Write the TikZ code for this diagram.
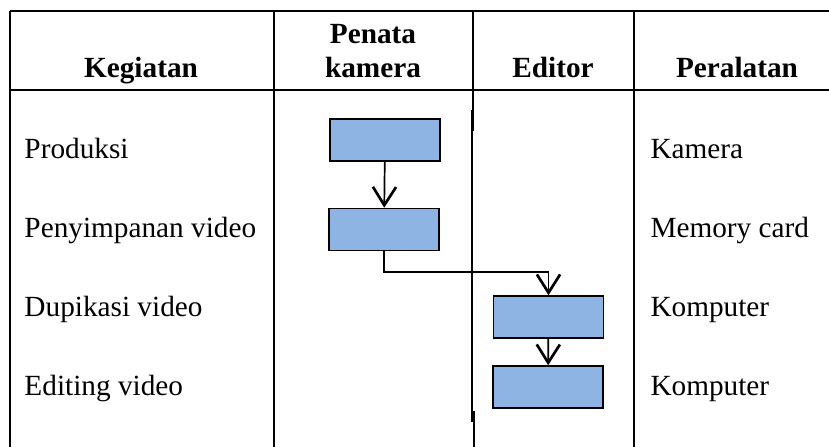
\documentclass[tikz,border=0pt]{standalone}
\usepackage{fontspec}
\setmainfont{Liberation Serif}
\usepackage{tikz}
\usetikzlibrary{arrows.meta,positioning}
\definecolor{boxblue}{HTML}{8EB4E3}

\begin{document}
\begin{tikzpicture}[
    x=0.41pt, y=-0.41pt,
    grid/.style={line width=0.85pt},
    head/.style={font=\fontsize{12}{13.8}\selectfont\bfseries, anchor=base, inner sep=0pt, align=center},
    cell/.style={font=\fontsize{12}{13.8}\selectfont, anchor=base west, inner sep=0pt},
    task/.style={rectangle, draw, fill=boxblue, line width=0.65pt, minimum width=45pt, minimum height=17.2pt, inner sep=0pt},
    flow/.style={-{Straight Barb[length=7.5pt, width=9.5pt, line width=1.1pt]}, line width=0.7pt}
]
\useasboundingbox (0,0) rectangle (829,447);

% table lines
\draw[grid] (10,11) -- (829,11);
\draw[grid] (10,90) -- (829,90);
\draw[grid] (10,11) -- (10,447);
\draw[grid] (274,11) -- (274,447);
\draw[grid] (473,11) -- (473,131);
\draw[line width=0.6pt] (472,110) -- (472,422);
\draw[grid] (474,411) -- (474,447);
\draw[grid] (634,11) -- (634,447);

% header
\node[head] (hkeg) at (141,77) {Kegiatan};
\node[head] (hpen) at (373,77) {Penata\\kamera};
\node[head] (hedi) at (553,77) {Editor};
\node[head] (hper) at (737,77) {Peralatan};

% kegiatan
\node[cell] (kprod) at (24,158) {Produksi};
\node[cell] (ksimp) at (24,237) {Penyimpanan video};
\node[cell] (kdup)  at (24,316) {Dupikasi video};
\node[cell] (kedit) at (24,395) {Editing video};

% peralatan
\node[cell] (pkam)  at (650,158) {Kamera};
\node[cell] (pmem)  at (650,237) {Memory card};
\node[cell] (pkom1) at (650,316) {Komputer};
\node[cell] (pkom2) at (650,395) {Komputer};

% flow boxes
\node[task] (pk1) at (385,140) {};
\node[task] (pk2) at (384,229.5) {};
\node[task] (ed1) at (548.5,317) {};
\node[task] (ed2) at (548,387) {};

\draw[flow] (pk1) -- (pk2);
\draw[flow] (pk2.south) -- ++(0,21) -| (ed1.north);
\draw[flow] (ed1) -- (ed2);
\end{tikzpicture}
\end{document}
